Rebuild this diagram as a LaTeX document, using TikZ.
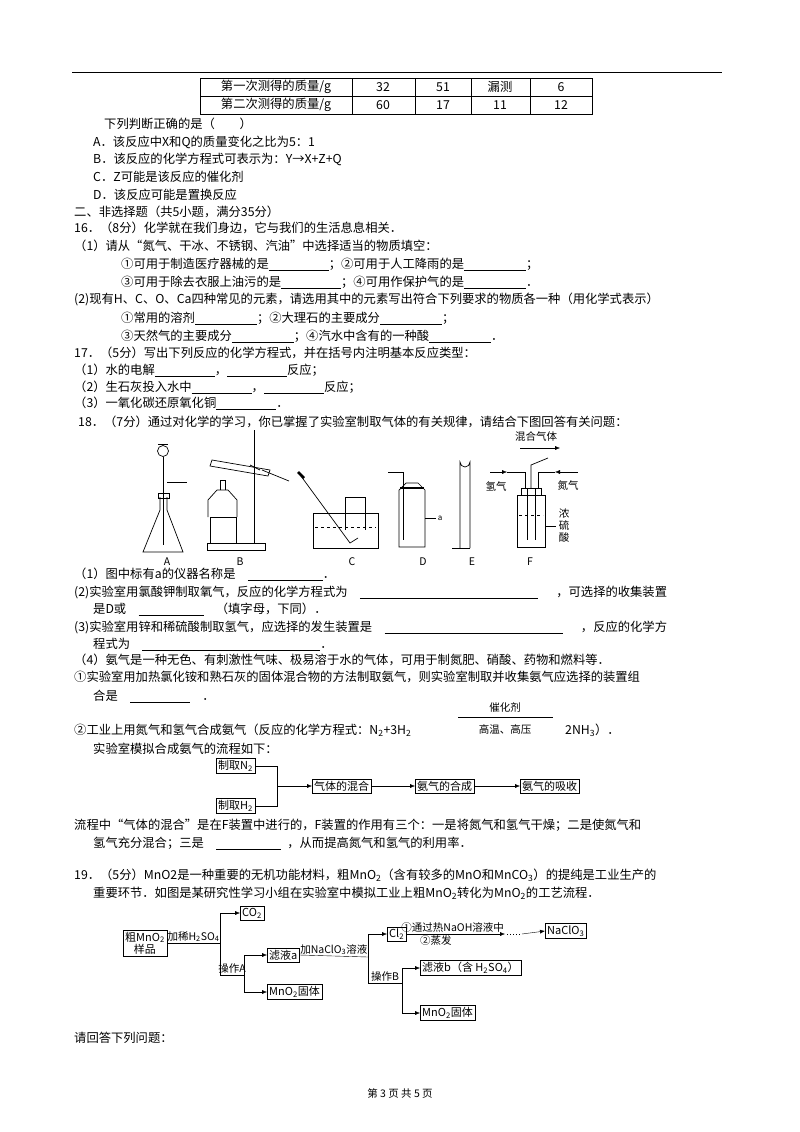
\documentclass[tikz,border=0pt]{standalone}
\usepackage{fontspec}
\setmainfont{Noto Sans CJK SC}
\usetikzlibrary{arrows.meta}
\newcommand{\bl}[1]{\rule[-2pt]{#1pt}{0.5pt}}
\newcommand{\sub}[1]{\textsubscript{#1}}
\newcommand{\sm}{\fontsize{10.5}{12}\selectfont}
\begin{document}
\begin{tikzpicture}[x=1pt,y=-1pt,
 t/.style={anchor=west,inner sep=0,font=\fontsize{12.3}{14}\selectfont},
 c/.style={inner sep=0,font=\fontsize{12.3}{14}\selectfont},
 fb/.style={draw,inner sep=2pt,font=\fontsize{11}{12}\selectfont,anchor=west},
 lab/.style={inner sep=1pt,font=\sm},
 ar/.style={-{Latex[length=5pt,width=4pt]}},
 app/.style={line width=0.7pt}]
\useasboundingbox (0,0) rectangle (800,1132);
\draw[line width=0.8pt] (72,72) -- (722,72);
% table
\draw (200,78) rectangle (592,114); \draw (200,96) -- (592,96);
\foreach \x in {352,415,471,530} \draw (\x,78) -- (\x,114);
\node[c] (r1) at (276,87) {第一次测得的质量/g}; \node[c] at (383,87) {32}; \node[c] at (443,87) {51}; \node[c] at (500,87) {漏测}; \node[c] at (561,87) {6};
\node[c] (r2) at (276,105) {第二次测得的质量/g}; \node[c] at (383,105) {60}; \node[c] at (443,105) {17}; \node[c] at (500,105) {11}; \node[c] at (561,105) {12};
\node[t] at (104,124) {下列判断正确的是（\hspace{2em}）};
\node[t] at (93,142) {A．该反应中X和Q的质量变化之比为5：1};
\node[t] at (93,159) {B．该反应的化学方程式可表示为：Y→X+Z+Q};
\node[t] at (93,177) {C．Z可能是该反应的催化剂};
\node[t] at (93,195) {D．该反应可能是置换反应};
\node[t] at (74,212) {二、非选择题（共5小题，满分35分）};
\node[t] at (74,228) {16．（8分）化学就在我们身边，它与我们的生活息息相关．};
\node[t] at (74,246) {（1）请从“氮气、干冰、不锈钢、汽油”中选择适当的物质填空：};
\node[t] at (121,264) {①可用于制造医疗器械的是\bl{60}；②可用于人工降雨的是\bl{62}；};
\node[t] at (121,282) {③可用于除去衣服上油污的是\bl{60}；④可用作保护气的是\bl{62}．};
\node[t] at (74,299) {(2)现有H、C、O、Ca四种常见的元素，请选用其中的元素写出符合下列要求的物质各一种（用化学式表示）};
\node[t] at (121,318) {①常用的溶剂\bl{62}；②大理石的主要成分\bl{62}；};
\node[t] at (121,336) {③天然气的主要成分\bl{62}；④汽水中含有的一种酸\bl{62}．};
\node[t] at (74,353) {17．（5分）写出下列反应的化学方程式，并在括号内注明基本反应类型：};
\node[t] at (74,370) {（1）水的电解\bl{60}，\bl{60}反应；};
\node[t] at (74,387) {（2）生石灰投入水中\bl{60}，\bl{60}反应；};
\node[t] at (74,403) {（3）一氧化碳还原氧化铜\bl{60}．};
\node[t] at (78,422) {18．（7分）通过对化学的学习，你已掌握了实验室制取气体的有关规律，请结合下图回答有关问题：};
% apparatus A
\draw[app] (160,497) -- (160,510) -- (143,552) -- (183,552) -- (167,510) -- (167,497);
\draw[app] (158,493) rectangle (169,498);
\draw[app] (163,457) -- (163,545); \draw[app] (163,451) circle (5.5);
\draw[app] (158,444) -- (168,444);
\draw[app] (167,482) -- (187,482);
% B
\draw[app] (207,543) rectangle (265,550);
\draw[app] (254,430) -- (254,543);
\draw[app] (210,517) rectangle (236,543);
\draw[app] (208,517) -- (208,500) -- (217,490) -- (228,490) -- (237,500) -- (237,517);
\draw[app] (220,490) -- (220,480) -- (225,480) -- (225,490);
\draw[app] (212,460) -- (270,470) -- (268,476) -- (210,466) -- cycle;
\draw[app] (262,470) -- (289,481);
\draw[app] (250,465) -- (260,470);
% C
\draw[app] (313,513) -- (313,548) -- (378,548) -- (378,513);
\draw[app] (313,513) -- (378,513);
\draw[dashed] (315,527) -- (376,527);
\draw[app] (345,530) -- (345,497) -- (365,497) -- (365,530);
\draw[app] (298,472) -- (350,543) -- (358,538);
\draw[line width=2.5pt] (298,472) -- (304,478);
% D
\draw[app] (399,490) -- (399,547) -- (425,547) -- (425,490) -- (418,483) -- (406,483) -- cycle;
\draw[line width=1.5pt] (400,488) -- (424,488);
\draw[app] (388,472) -- (403,472) -- (403,540);
\draw (425,518) -- (436,518); \node[inner sep=0,font=\footnotesize] (a) at (440,518) {a};
% E
\draw[app] (460,548) -- (460,462) arc (180:0:5) -- (470,548);
\draw[app] (452,548) -- (470,548);
% F
\draw[app] (517,547) rectangle (545,495);
\draw[app] (521,495) rectangle (541,488);
\draw[app] (527,488) -- (527,540); \draw[app] (535,488) -- (535,540);
\draw[app] (531,488) -- (531,465) -- (548,458);
\draw[app] (525,488) -- (525,472) -- (507,472);
\draw[app] (538,488) -- (538,472) -- (555,472);
\draw[dashed] (519,515) -- (543,515);
\draw[ar] (520,448) -- (560,448); \node[lab] (mix) at (536,437) {混合气体};
\draw[ar] (490,472) -- (507,472); \node[lab] (h2) at (496,486) {氢气};
\draw[ar] (578,472) -- (555,472); \node[lab] (n2) at (568,486) {氮气};
\draw (545,526) -- (556,526);
\node[lab,align=center] (h2so4) at (564,526) {浓\\硫\\酸};
\foreach \l/\x in {A/167,B/240,C/352,D/423,E/472,F/530} \node[lab] at (\x,562) {\l};
\node[t] at (74,574) {（1）图中标有a的仪器名称是\hspace{1em}\bl{75}．};
\node[t] at (74,592) {(2)实验室用氯酸钾制取氧气，反应的化学方程式为\hspace{1em}\bl{178}\hspace{1.5em}，可选择的收集装置};
\node[t] at (93,609) {是D或\hspace{1em}\bl{65}\hspace{1em}（填字母，下同）．};
\node[t] at (74,627) {(3)实验室用锌和稀硫酸制取氢气，应选择的发生装置是\hspace{1em}\bl{178}\hspace{1.5em}，反应的化学方};
\node[t] at (93,644) {程式为\hspace{1em}\bl{178}．};
\node[t] at (74,660) {（4）氨气是一种无色、有刺激性气味、极易溶于水的气体，可用于制氮肥、硝酸、药物和燃料等．};
\node[t] at (74,677) {①实验室用加热氯化铵和熟石灰的固体混合物的方法制取氨气，则实验室制取并收集氨气应选择的装置组};
\node[t] at (93,696) {合是\hspace{1em}\bl{60}\hspace{1em}．};
\node[t] at (74,730) {②工业上用氮气和氢气合成氨气（反应的化学方程式：N\sub{2}+3H\sub{2}};
\draw (458,717) -- (553,717);
\node[lab] at (505,707) {催化剂};
\node[lab] at (505,729) {高温、高压};
\node[t] at (565,730) {2NH\sub{3}）．};
\node[t] at (93,749) {实验室模拟合成氨气的流程如下：};
% flow 1
\node[fb] (pn) at (216,766) {制取N\sub{2}};
\node[fb] (ph) at (216,806) {制取H\sub{2}};
\node[fb] (mx) at (312,786) {气体的混合};
\node[fb] (sy) at (415,786) {氨气的合成};
\node[fb] (ab) at (520,786) {氨气的吸收};
\coordinate (j) at (277,786);
\draw (pn.east) -| (j); \draw (ph.east) -| (j);
\draw[ar] (j) -- (mx.west); \draw[ar] (mx) -- (sy); \draw[ar] (sy) -- (ab);
\node[t] at (74,825) {流程中“气体的混合”是在F装置中进行的，F装置的作用有三个：一是将氮气和氢气干燥；二是使氮气和};
\node[t] at (93,843) {氢气充分混合；三是\hspace{1em}\bl{65}\hspace{0.5em}，从而提高氮气和氢气的利用率．};
\node[t] at (74,875) {19．（5分）MnO2是一种重要的无机功能材料，粗MnO\sub{2}（含有较多的MnO和MnCO\sub{3}）的提纯是工业生产的};
\node[t] at (93,893) {重要环节．如图是某研究性学习小组在实验室中模拟工业上粗MnO\sub{2}转化为MnO\sub{2}的工艺流程．};
% flow 2
\node[fb,align=center] (crude) at (123,943) {粗MnO\sub{2}\\样品};
\node[fb] (co2) at (240,913) {CO\sub{2}};
\node[fb] (fa) at (267,955) {滤液a};
\node[fb] (ma) at (267,992) {MnO\sub{2}固体};
\node[fb] (cl) at (387,934) {Cl\sub{2}};
\node[fb] (naclo) at (545,931) {NaClO\sub{3}};
\node[fb] (fb2) at (420,968) {滤液b（含 H\sub{2}SO\sub{4}）};
\node[fb] (mb) at (420,1013) {MnO\sub{2}固体};
\coordinate (v1) at (220,943);
\draw (crude.east) -- (v1) node[midway,above,lab]{加稀H\sub{2}SO\sub{4}};
\draw[ar] (v1) |- (co2.west);
\draw (v1) -- (220,975) -- (244,975) node[midway,above,lab]{操作A};
\draw[ar] (244,975) |- (fa.west); \draw[ar] (244,975) |- (ma.west);
\coordinate (v2) at (368,957);
\draw (fa.east) -- (v2) node[midway,above,lab]{加NaClO\sub{3}溶液};
\draw[ar] (v2) |- (cl.west);
\draw (v2) -- (368,983) -- (402,983) node[midway,above,lab]{操作B};
\draw[ar] (402,983) |- (fb2.west); \draw[ar] (402,983) |- (mb.west);
\coordinate (d1) at (505,934);
\draw[ar] (cl.east) -- (d1) node[pos=0.47,above,lab]{①通过热NaOH溶液中} node[pos=0.3,below,lab]{②蒸发};
\draw[dotted,line width=1pt] (507,934) -- (520,934);
\draw[ar] (522,934) -- (naclo.west);
\node[t] at (74,1038) {请回答下列问题：};
\node[lab] at (400,1093) {第 3 页 共 5 页};
\end{tikzpicture}
\end{document}
